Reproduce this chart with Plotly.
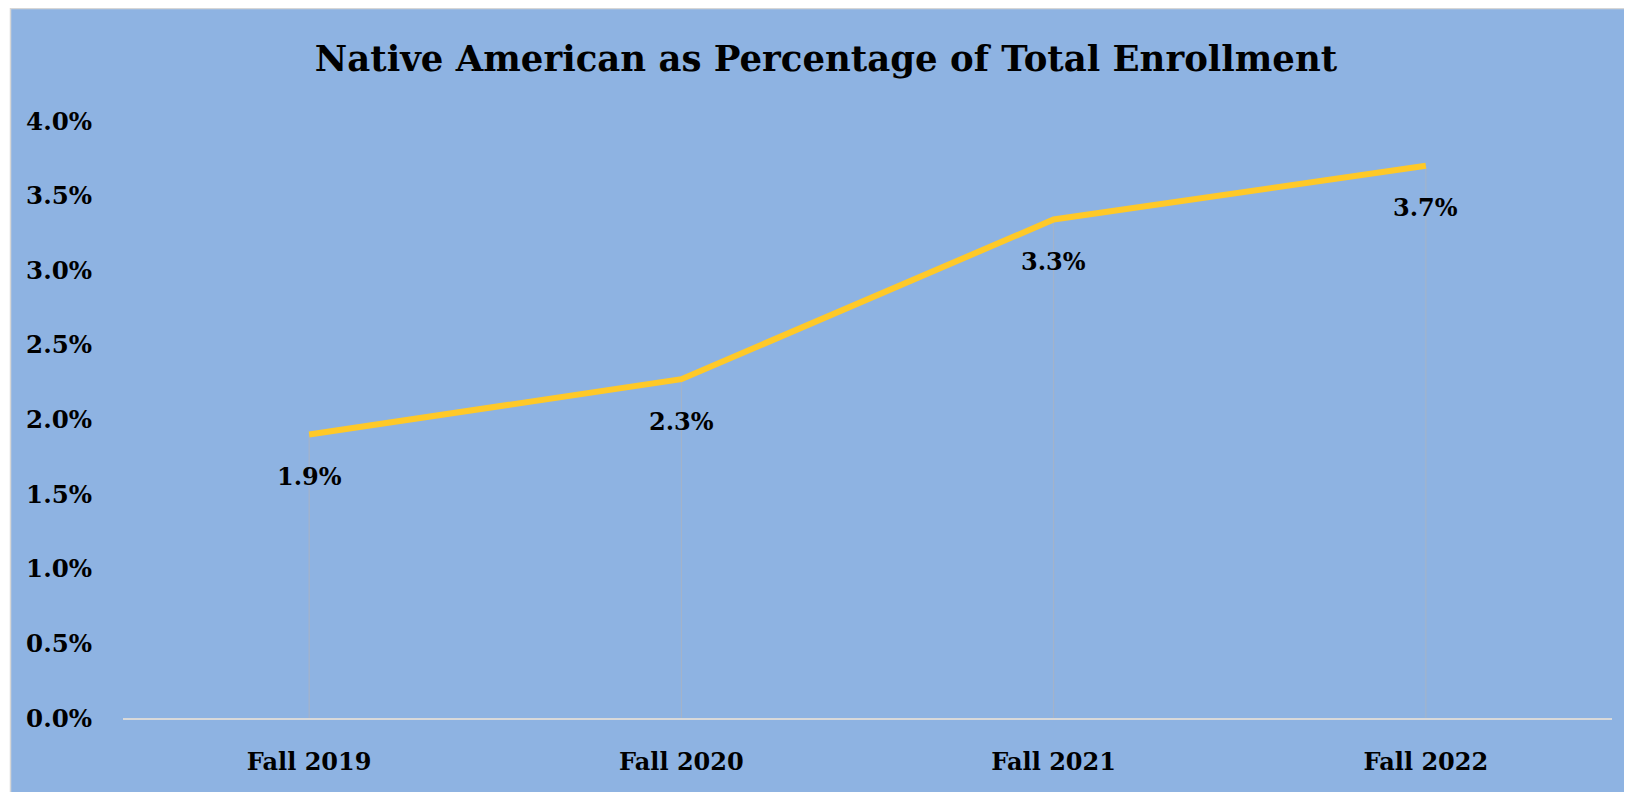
import plotly.graph_objects as go

categories = ["Fall 2019", "Fall 2020", "Fall 2021", "Fall 2022"]
values = [0.019, 0.0227, 0.0334, 0.0370]
labels = ["1.9%", "2.3%", "3.3%", "3.7%"]
title_text = "Native American as Percentage of Total Enrollment"

FONT = "DejaVu Serif"
W, H = 1632, 792
# page has an 8px body margin; plot area placed to match reference
L, R, T, B = 115, 28, 113, 82
pw, ph = W - L - R, H - T - B

fig = go.Figure()

# drop lines
dx, dy = [], []
for c, v in zip(categories, values):
    dx += [c, c, None]
    dy += [0, v, None]
fig.add_trace(go.Scatter(x=dx, y=dy, mode="lines",
                         line=dict(color="rgba(170,180,195,0.9)", width=1),
                         hoverinfo="skip", showlegend=False))

fig.add_trace(go.Scatter(
    x=categories, y=values, mode="lines",
    line=dict(color="#FFC928", width=6),
    showlegend=False, cliponaxis=False, hoverinfo="x+y"))

for c, v, t in zip(categories, values, labels):
    fig.add_annotation(x=c, y=v, text=t, showarrow=False, yshift=-42,
                       xanchor="center", yanchor="middle",
                       font=dict(family=FONT, size=24, color="black", weight="bold"))

def px_x(p):
    return (p - L) / pw

def px_y(p):
    return (H - B - p) / ph

fig.add_shape(type="rect", xref="paper", yref="paper", layer="below",
              x0=px_x(2.5), x1=px_x(W + 5), y0=px_y(H + 5), y1=px_y(0.5),
              fillcolor="#8EB3E2", line=dict(color="#D6D6D6", width=1.5))

fig.update_layout(
    width=W, height=H,
    margin=dict(l=L, r=R, t=T, b=B),
    paper_bgcolor="white", plot_bgcolor="rgba(0,0,0,0)",
    title=dict(text=title_text, x=818 / W, xanchor="center",
               xref="container", yref="container", y=1 - 51 / H, yanchor="middle",
               font=dict(family=FONT, size=35.5, color="black", weight="bold")),
    xaxis=dict(type="category", range=[-0.5, 3.5], showgrid=False,
               showline=True, linecolor="#D9D9D9", linewidth=2,
               ticks="", zeroline=False,
               tickfont=dict(family=FONT, size=24, color="black", weight="bold"),
               ticklabelstandoff=21),
    yaxis=dict(range=[0, 0.04], dtick=0.005, tickformat=".1%", showgrid=False,
               zeroline=False, showline=False, ticks="",
               tickfont=dict(family=FONT, size=24.5, color="black", weight="bold"),
               ticklabelstandoff=30),
)

fig.write_html("out.html")
